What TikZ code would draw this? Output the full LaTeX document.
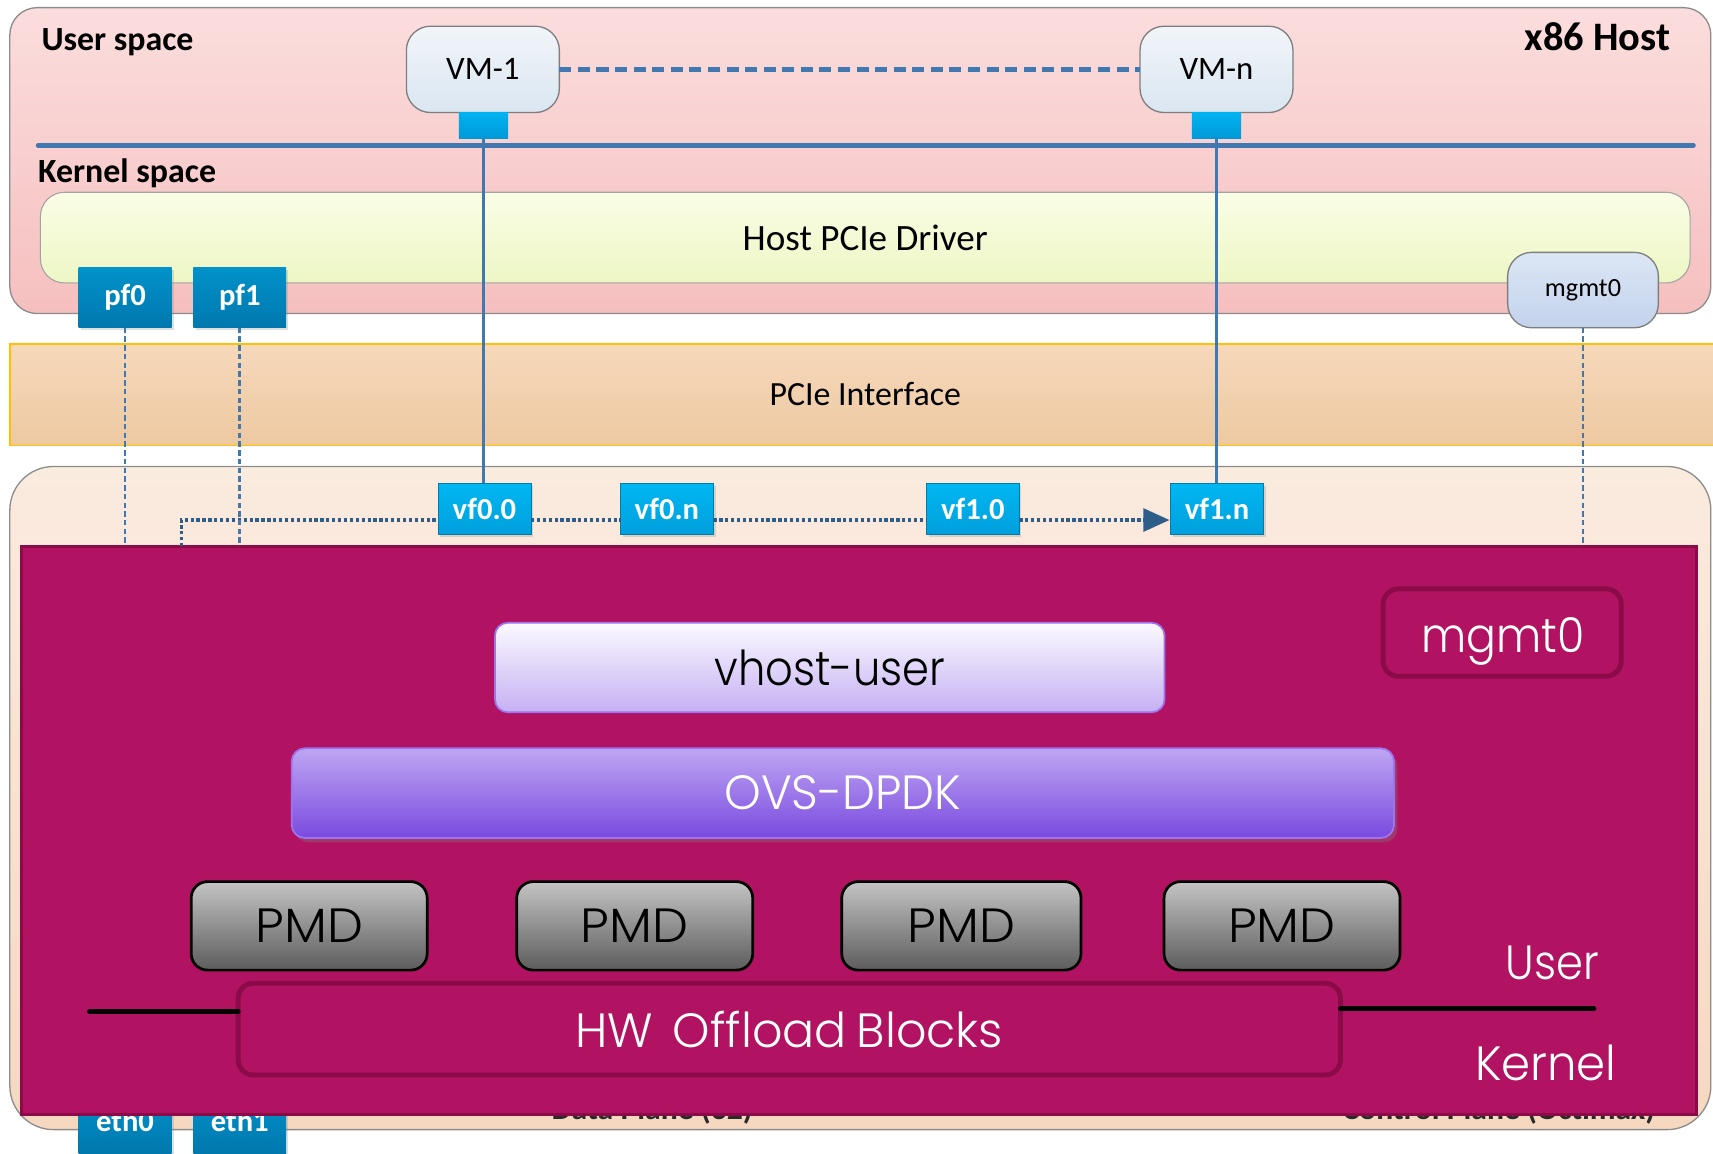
\documentclass[tikz,border=0pt]{standalone}
\usepackage{fontspec}
\setmainfont{Carlito}
\newfontfamily\gothic{Poppins}[UprightFont=* Light]
\usetikzlibrary{arrows.meta,shadows,calc}
\definecolor{hosttop}{HTML}{FBDDDD}
\definecolor{hostbot}{HTML}{F6BFBF}
\definecolor{edgegray}{HTML}{8C8C8C}
\definecolor{vmtop}{HTML}{F1F5F9}
\definecolor{vmbot}{HTML}{DAE6F1}
\definecolor{porttop}{HTML}{00B2F0}
\definecolor{portbot}{HTML}{0098D8}
\definecolor{steel}{HTML}{4178B0}
\definecolor{drvtop}{HTML}{FAFDE6}
\definecolor{drvbot}{HTML}{EDF7C4}
\definecolor{pftop}{HTML}{0092C9}
\definecolor{pfbot}{HTML}{0078AE}
\definecolor{mgtop}{HTML}{DCE6F5}
\definecolor{mgbot}{HTML}{C3D3EC}
\definecolor{bandtop}{HTML}{F6D8BA}
\definecolor{bandbot}{HTML}{EDC9A2}
\definecolor{bandedge}{HTML}{FFC000}
\definecolor{cardtop}{HTML}{FAEBDF}
\definecolor{cardbot}{HTML}{F6D8C0}
\definecolor{vftop}{HTML}{00B7F1}
\definecolor{vfbot}{HTML}{009FDC}
\definecolor{dotblue}{HTML}{2F5D8A}
\definecolor{magfill}{HTML}{B21262}
\definecolor{magedge}{HTML}{8A0B47}
\definecolor{vhtop}{HTML}{FBFAFF}
\definecolor{vhbot}{HTML}{C5B0F3}
\definecolor{purpedge}{HTML}{9C74EE}
\definecolor{ovstop}{HTML}{BEA6F3}
\definecolor{ovsbot}{HTML}{7A4ADF}
\definecolor{pmdtop}{HTML}{C4C4C4}
\definecolor{pmdbot}{HTML}{5C5C5C}
\definecolor{hidtext}{HTML}{2A2A2A}
\newcommand{\gsq}[2]{\scalebox{#1}[1]{#2}}
\begin{document}
\begin{tikzpicture}[x=1pt,y=-1pt,
  every node/.style={inner sep=0pt, outer sep=0pt},
  hostbox/.style={draw=edgegray, line width=1.2pt, rounded corners=25pt, top color=hosttop, bottom color=hostbot},
  vmbox/.style={draw=edgegray!90!black, line width=1.2pt, rounded corners=22pt, top color=vmtop, bottom color=vmbot,
    minimum width=140pt, minimum height=79pt, font=\fontsize{30}{36}\selectfont},
  portbox/.style={top color=porttop, bottom color=portbot, minimum width=45pt, minimum height=24pt},
  drvbox/.style={draw=edgegray!80, line width=1pt, rounded corners=22pt, top color=drvtop, bottom color=drvbot},
  pfbox/.style={top color=pftop, bottom color=pfbot, minimum width=85pt, minimum height=55pt, text=white,
    font=\fontsize{28}{34}\selectfont\bfseries, drop shadow={shadow xshift=2pt, shadow yshift=-2pt, opacity=0.25}},
  mgbox/.style={draw=edgegray!90!black, line width=1.2pt, rounded corners=22pt, top color=mgtop, bottom color=mgbot,
    minimum width=138pt, minimum height=69pt, font=\fontsize{24}{30}\selectfont},
  vfbox/.style={draw=porttop!70!black, line width=0.6pt, top color=vftop, bottom color=vfbot, minimum width=85pt, minimum height=47pt,
    text=white, font=\fontsize{28}{34}\selectfont\bfseries, drop shadow={shadow xshift=2pt, shadow yshift=-2pt, opacity=0.25}},
  purplebox/.style={draw=purpedge, line width=1.6pt, rounded corners=12pt},
  pmdbox/.style={draw=black, line width=2.5pt, rounded corners=15pt, top color=pmdtop, bottom color=pmdbot,
    minimum height=81pt, font=\gothic\fontsize{44}{50}\selectfont},
  magbox/.style={draw=magedge, line width=4.5pt, rounded corners=14pt, fill=magfill, text=white},
  gtxt/.style={font=\gothic\fontsize{44}{50}\selectfont},
  bluebar/.style={steel, line width=4.5pt, line cap=round},
  vmlink/.style={steel, line width=4pt, dash pattern=on 11pt off 6pt},
  vline/.style={steel, line width=2.6pt},
  pfdash/.style={steel, line width=2.4pt, dash pattern=on 5pt off 3pt},
  dotline/.style={dotblue, line width=3pt, dash pattern=on 3pt off 2.4pt},
  hidden/.style={text=hidtext, font=\fontsize{29}{34}\selectfont\bfseries, anchor=base}
]
\useasboundingbox (0,0) rectangle (1568,1056);
\fill[white] (0,0) rectangle (1568,1056);

% ---------- x86 host ----------
\node[hostbox, minimum width=1557pt, minimum height=280pt] (host) at (787.5,147) {};
\node[anchor=base west, font=\fontsize{31}{36}\selectfont\bfseries] (userspace) at (38,46.5) {User space};
\node[anchor=base east, font=\fontsize{37}{42}\selectfont\bfseries] (x86) at (1529,46) {x86 Host};
\node[anchor=base west, font=\fontsize{31}{36}\selectfont\bfseries] (kernelspace) at (35,167) {Kernel space};

\node[vmbox] (vm1) at (442,63.5) {VM-1};
\node[vmbox] (vmn) at (1113.5,63.5) {VM-n};
\draw[vmlink] (vm1.east) -- (vmn.west);
\node[portbox] (p1) at (442.5,115) {};
\node[portbox] (pn) at (1113.5,115) {};
\coordinate (barL) at (35,133);
\coordinate (barR) at (1550,133);
\draw[bluebar] (barL) -- (barR);

\node[drvbox, minimum width=1510pt, minimum height=83pt, font=\fontsize{34}{40}\selectfont] (drv) at (792,217.5) {Host PCIe Driver};
\node[pfbox] (pf0) at (114.5,272.5) {pf0};
\node[pfbox] (pf1) at (219.5,272.5) {pf1};
\node[mgbox] (hmg) at (1449,265.5) {mgmt0};

% ---------- PCIe band ----------
\node[draw=bandedge, line width=1.3pt, top color=bandtop, bottom color=bandbot, minimum width=1571pt, minimum height=93pt] (band) at (794.5,361.5) {};
\node[font=\fontsize{31}{36}\selectfont] (pcietxt) at (792,361) {PCIe Interface};

% ---------- card ----------
\node[draw=edgegray, line width=1.2pt, rounded corners=40pt, top color=cardtop, bottom color=cardbot,
  minimum width=1557pt, minimum height=607pt] (card) at (787.5,730.5) {};

\node[pfbox, minimum height=55pt] (eth0) at (114.5,1028) {};
\node[pfbox, minimum height=55pt] (eth1) at (219.5,1028) {};
\node[anchor=base, text=white, font=\fontsize{28}{34}\selectfont\bfseries] (eth0t) at (114.5,1036) {eth0};
\node[anchor=base, text=white, font=\fontsize{28}{34}\selectfont\bfseries] (eth1t) at (219.5,1036) {eth1};
\node[hidden] (dplane) at (597,1025) {Data Plane (32)};
\node[hidden] (cplane) at (1372,1025) {Control Plane (Octimax)};

\node[vfbox] (vf00) at (443.5,466) {vf0.0};
\node[vfbox] (vf0n) at (610.5,466) {vf0.n};
\node[vfbox] (vf10) at (890.5,466) {vf1.0};
\node[vfbox] (vf1n) at (1114,466) {vf1.n};

% ---------- magenta block ----------
\node[draw=magedge, line width=3pt, fill=magfill, minimum width=1533pt, minimum height=520pt] (mag) at (786.5,760) {};

\coordinate (dl) at (166,500);
\draw[dotline] (dl) |- ([yshift=-10pt]vf00.west);
\draw[dotline] ([yshift=-10pt]vf00.east) -- ([yshift=-10pt]vf0n.west);
\draw[dotline] ([yshift=-10pt]vf0n.east) -- ([yshift=-10pt]vf10.west);
\draw[dotline, -{Triangle[length=24pt,width=21pt]}] ([yshift=-10pt]vf10.east) -- ([yshift=-10pt,xshift=-1pt]vf1n.west);

\draw[vline] (p1.south) -- (p1.south |- vf00.north);
\draw[vline] (pn.south) -- (pn.south |- vf1n.north);
\draw[pfdash] (pf0.south) -- (pf0.south |- mag.north);
\draw[pfdash] (pf1.south) -- (pf1.south |- mag.north);
\draw[pfdash] (hmg.south) -- (hmg.south |- mag.north);

\node[purplebox, top color=vhtop, bottom color=vhbot, minimum width=613pt, minimum height=82pt, gtxt] (vhost) at (759.5,611) {\gsq{0.9}{vhost-user}};
\node[purplebox, top color=ovstop, bottom color=ovsbot, minimum width=1009pt, minimum height=82pt, gtxt, text=white,
  drop shadow={shadow xshift=3pt, shadow yshift=-4pt, opacity=0.35}] (ovs) at (771.5,726) {\gsq{0.97}{OVS-DPDK}};
\node[magbox, minimum width=218pt, minimum height=80pt] (mmg) at (1375,579) {};
\node[gtxt, text=white, anchor=base] (mmgt) at (1376,597.5) {\gsq{0.92}{mgmt0}};

\node[pmdbox, minimum width=216pt] (pmd1) at (283,847.5) {\gsq{1.06}{PMD}};
\node[pmdbox, minimum width=216pt] (pmd2) at (581,847.5) {\gsq{1.06}{PMD}};
\node[pmdbox, minimum width=219pt] (pmd3) at (880,847.5) {\gsq{1.06}{PMD}};
\node[pmdbox, minimum width=216pt] (pmd4) at (1173.5,847.5) {\gsq{1.06}{PMD}};

\node[magbox, minimum width=1009pt, minimum height=84pt, gtxt] (hw) at (722.5,942) {\gsq{0.99}{HW\hspace{6pt} Offload\hspace{-3pt} Blocks}};
\coordinate (blL) at (82,926);
\coordinate (blR) at (1459,923.5);
\draw[black, line width=4.5pt, line cap=round] (blL) -- (blL -| hw.west);
\draw[black, line width=4.5pt, line cap=round] (blR -| hw.east) -- (blR);

\node[gtxt, text=white] (usr) at (1421,881) {\gsq{0.9}{User}};
\node[gtxt, text=white] (krn) at (1415,972.5) {\gsq{0.97}{Kernel}};
\end{tikzpicture}
\end{document}
